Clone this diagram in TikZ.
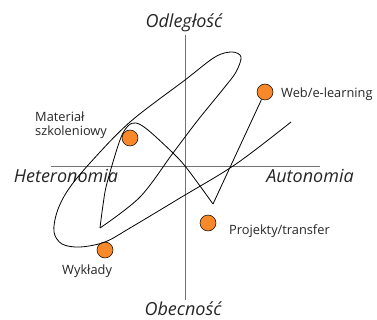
\documentclass[tikz,border=0pt]{standalone}
\usepackage{fontspec}
\setmainfont{Open Sans}
\begin{document}
\begin{tikzpicture}[x=1pt,y=-1pt,
  axis/.style={draw=black!55,line width=0.9pt},
  curve/.style={draw=black,line width=0.8pt,line join=round},
  dot/.style={circle,fill=dotorange,draw=black,line width=0.5pt,minimum size=16pt,inner sep=0pt},
  biglab/.style={font=\fontsize{18}{21}\selectfont\itshape,text=black!85,inner sep=0pt},
  smalllab/.style={font=\fontsize{12.8}{15}\selectfont,text=black!85,inner sep=0pt,align=left}]
\definecolor{dotorange}{HTML}{F7892B}
\useasboundingbox (0,0) rectangle (377,320);
% axes
\coordinate (vt) at (185,35);
\coordinate (vb) at (185,300);
\coordinate (hl) at (51,166);
\coordinate (hr) at (320,166);
\draw[axis] (vt) -- (vb);
\draw[axis] (hl) -- (hr);
% axis labels
\node[biglab,anchor=base] (odl) at (184,28) {Odległość};
\node[biglab,anchor=base] (obe) at (183,315.5) {Obecność};
\node[biglab,anchor=base] (het) at (66,183) {Heteronomia};
\node[biglab,anchor=base] (aut) at (310,183) {Autonomia};
% dots
\node[dot] (web) at (265,92) {};
\node[dot] (mat) at (130,138) {};
\node[dot] (pro) at (208,223) {};
\node[dot] (wyk) at (105,250) {};
% labels
\node[smalllab,anchor=base west] (lweb) at (281,98) {Web/e-learning};
\node[smalllab,anchor=base west] (lmat1) at (35,122) {Materiał};
\node[smalllab,anchor=base west] (lmat2) at (35,136) {szkoleniowy};
\node[smalllab,anchor=base west] (lpro) at (229,235) {Projekty/transfer};
\node[smalllab,anchor=base west] (lwyk) at (62,274) {Wykłady};
% curve
\coordinate (start) at (291,122);
\coordinate (vbot) at (100,228);
\coordinate (apex) at (213,204);
\draw[curve] plot[smooth,tension=0.55] coordinates {
  (start) (236,164) (180,198) (130,228) (105,242) (80,247) (62,244)
  (54,232) (57,212) (68,190) (90,163) (130,122) (185,80) (215,57)
  (232,52) (241,57) (236,72) (224,88) (198,120) (173,153) (140,197) (vbot)};
\draw[curve] plot[smooth,tension=0.55] coordinates {
  (vbot) (103,205) (107,183) (120,140) (128,126) (136,123) (148,130) (173,153) (185,166) (200,186) (apex)};
\draw[curve] (apex) -- (web);
\end{tikzpicture}
\end{document}
